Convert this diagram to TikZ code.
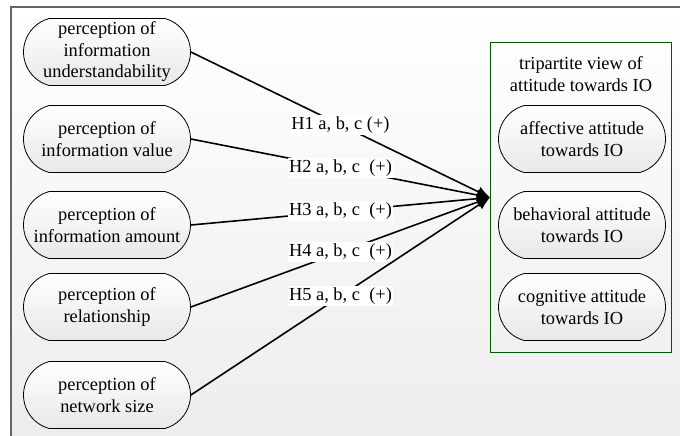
\documentclass[tikz,border=0pt]{standalone}
\usepackage{fontspec}
\setmainfont{Liberation Serif}
\usetikzlibrary{shapes.misc,arrows.meta}
\tikzset{
  txt/.style={font=\fontsize{18.4}{21.5}\selectfont},
  term/.style={txt,draw,line width=0.8pt,rounded rectangle,rounded rectangle arc length=150,
    minimum width=169pt,minimum height=67pt,inner sep=1pt,align=center,
    top color=white,bottom color=black!9},
  hyp/.style={txt,fill=white,inner sep=1.5pt},
  conn/.style={line width=1.6pt,-{Latex[length=13pt,width=11pt]}},
}
\begin{document}
\begin{tikzpicture}[x=1pt,y=-1pt]
\useasboundingbox (0,0) rectangle (680,436);
%background and frame
\fill[top color=white,bottom color=black!7] (11,7) rectangle (680,436);
\draw[line width=1.2pt,black!60] (11,436)--(11,7)--(680,7);
%antecedents
\foreach \n/\y/\t in {under/52/{perception of\\information\\understandability},
  value/139/{perception of\\information value},
  amount/225/{perception of\\information amount},
  relation/307/{perception of\\relationship},
  netsize/395/{perception of\\network size}}{
  \node[term](\n) at (107,\y){\t};}
%tripartite view
\node[draw=green!35!black,line width=1pt,minimum width=181pt,minimum height=309pt](view) at (581,197.5){};
\node[txt,align=center](title) at (581,74){tripartite view of\\attitude towards IO};
\node[term](affect) at (582,139){affective attitude\\towards IO};
\node[term](behav) at (582,225){behavioral attitude\\towards IO};
\node[term](cogn) at (582,307){cognitive attitude\\towards IO};
%hypotheses
\foreach \n/\l in {under/{H1 a, b, c (+)},value/{H2 a, b, c \ (+)},amount/{H3 a, b, c \ (+)},
  relation/{H4 a, b, c \ (+)},netsize/{H5 a, b, c \ (+)}}{
  \draw[conn](\n.east)--node[hyp,pos=0.5]{\l}(view.west);}
\end{tikzpicture}
\end{document}
